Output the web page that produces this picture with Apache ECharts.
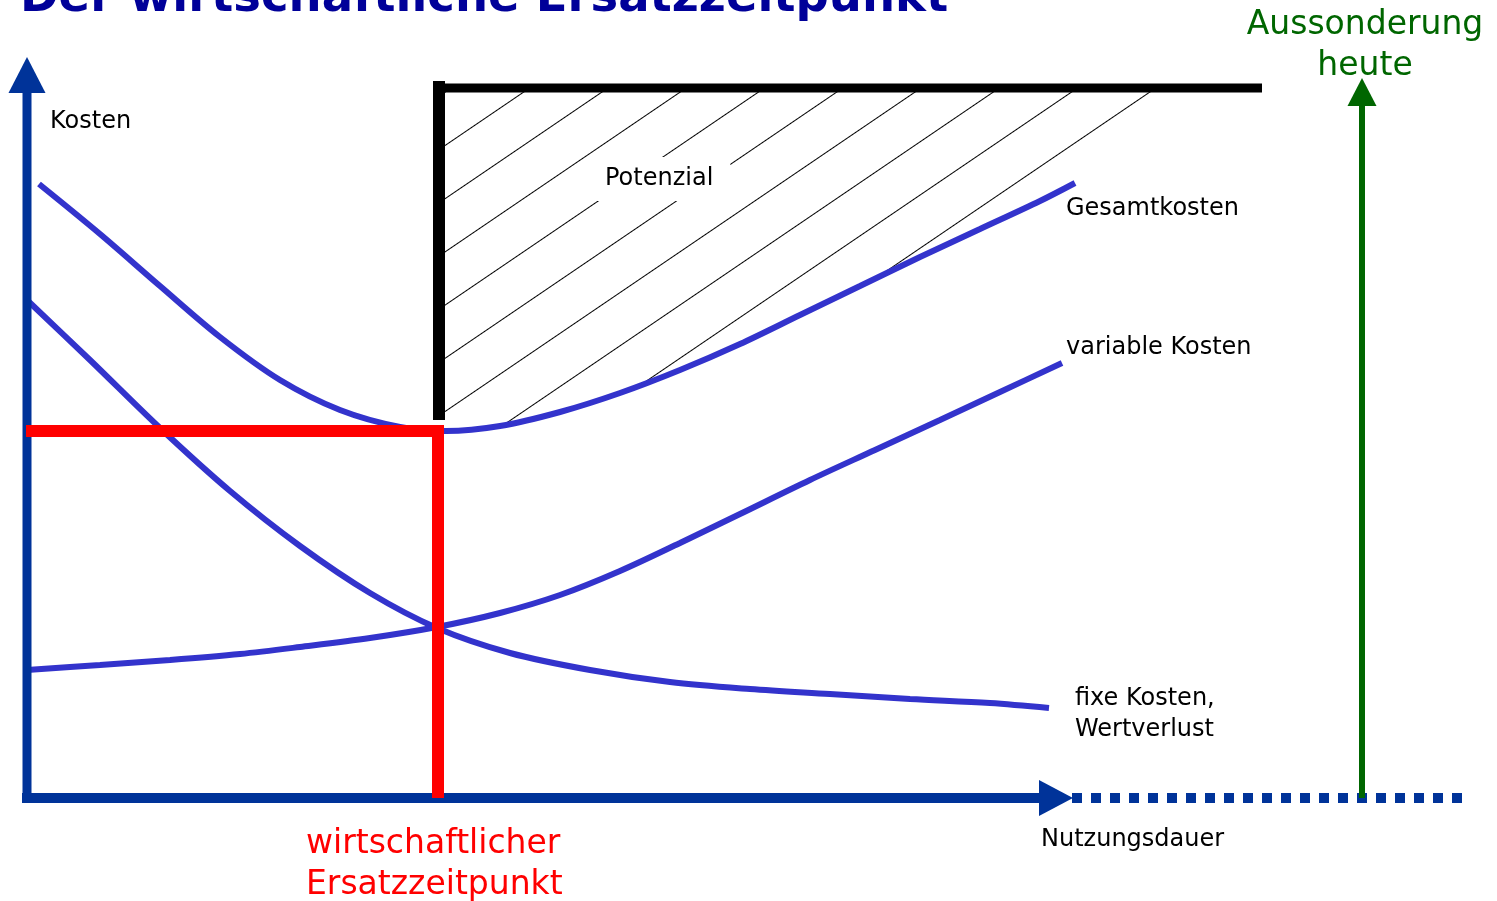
<!DOCTYPE html>
<html>
<head>
<meta charset="utf-8">
<script src="https://cdn.jsdelivr.net/npm/echarts@6/dist/echarts.min.js"></script>
<style>
  html, body { margin: 0; padding: 0; background: #fff; }
  #chart { width: 1497px; height: 901px; }
</style>
</head>
<body>
<div id="chart"></div>
<script>
// Werte in Diagramm-Einheiten (x: Nutzungsdauer, y: Kosten)
const gesamtX = [12, 73, 133, 193, 253, 313, 373, 419, 473, 533, 593, 653, 713, 773, 833, 893, 953, 1013, 1048];
const gesamtY = [614, 564, 512, 461, 418, 388, 371, 367, 372, 386, 405, 428, 454, 483, 512, 541, 569, 597, 615];

const fixX = [0, 63, 133, 203, 273, 343, 410, 483, 563, 643, 723, 803, 883, 963, 1022];
const fixY = [498, 438, 370, 307, 252, 205, 170, 145, 128, 116, 109, 104, 99, 95, 90];

const varX = [0, 73, 143, 213, 273, 343, 410, 473, 533, 593, 653, 713, 783, 848, 913, 973, 1035];
const varY = [128, 133, 138, 144, 151, 160, 171, 185, 203, 227, 255, 284, 318, 348, 378, 406, 435];

// Potenzial: Fläche zwischen Gesamtkosten und Obergrenze
const potX = [418, 473, 533, 593, 653, 713, 773, 833, 893, 953, 1013, 1048, 1141];
const potLow = [367, 372, 386, 405, 428, 454, 483, 512, 541, 569, 597, 615, 706];
const potTop = 706;

// Achsen, Ersatzzeitpunkt, Grenzlinien
const achseXEnde = 1029;
const achseYEnde = 723;
const ersatzX = 411;
const ersatzY = 367;
const grenzeX = [406, 1235];
const grenzeY = 710;
const grenzeSenkrecht = [378, 717];
const heuteX = 1335;
const heuteTop = 706;
const dauerEnde = [1045, 1436];

const zip = (xs, ys) => xs.map((x, i) => [x, ys[i]]);

// Schraffur als Muster
let hatch = document.createElement('canvas');
hatch.width = 16;
hatch.height = 44;
let hctx = hatch.getContext('2d');
hctx.fillStyle = '#000';
hctx.fillRect(0, 0, 16, 1);

let echart = echarts.init(document.getElementById('chart'));

const FONT = '"DejaVu Sans", sans-serif';
const txt = (text, x, y, size, color, align, extra) => ({
	type: 'text',
	x: x,
	y: y,
	z: 100,
	style: Object.assign({
		text: text,
		font: size + 'px ' + FONT,
		fill: color,
		align: align,
		textAlign: align,
		verticalAlign: 'middle',
		textVerticalAlign: 'middle'
	}, extra || {})
});

const blue = '#3333cc';
const axisBlue = '#003399';

const hidden = {
	axisLine: { show: false },
	axisTick: { show: false },
	axisLabel: { show: false },
	splitLine: { show: false }
};

const curve = (name, xs, ys) => ({
	name: name,
	type: 'line',
	data: zip(xs, ys),
	smooth: 0.33,
	symbol: 'none',
	z: 2,
	lineStyle: { color: blue, width: 6, cap: 'butt' }
});

let option = {
	backgroundColor: '#fff',
	animation: false,
	grid: { left: 0, top: 0, width: 1497, height: 901 },
	xAxis: Object.assign({ type: 'value', min: -27, max: 1470 }, hidden),
	yAxis: Object.assign({ type: 'value', min: -103, max: 798 }, hidden),
	series: [
		{
			name: 'Potenzial',
			type: 'line',
			data: zip(potX, potLow),
			smooth: 0.33,
			symbol: 'none',
			z: 1,
			lineStyle: { width: 0, opacity: 0 },
			areaStyle: {
				origin: potTop,
				opacity: 1,
				color: { image: hatch, repeat: 'repeat', rotation: -0.597, x: 0, y: 21.8 }
			}
		},
		curve('Gesamtkosten', gesamtX, gesamtY),
		curve('fixe Kosten', fixX, fixY),
		curve('variable Kosten', varX, varY),
		{
			// Kosten-Achse
			type: 'line',
			data: [[0, 0], { value: [0, achseYEnde], symbol: 'triangle', symbolSize: [37, 36] }],
			symbol: 'none',
			showSymbol: true,
			z: 2,
			itemStyle: { color: axisBlue },
			lineStyle: { color: axisBlue, width: 9, cap: 'butt' }
		},
		{
			// Nutzungsdauer-Achse
			type: 'line',
			data: [[-5, 0], { value: [achseXEnde, 0], symbol: 'triangle', symbolSize: [36, 34], symbolRotate: -90 }],
			symbol: 'none',
			showSymbol: true,
			z: 2,
			itemStyle: { color: axisBlue },
			lineStyle: { color: axisBlue, width: 10, cap: 'butt' }
		},
		{
			// Verlängerung der Nutzungsdauer
			type: 'line',
			data: [[dauerEnde[0], 0], [dauerEnde[1], 0]],
			symbol: 'none',
			z: 2,
			lineStyle: { color: axisBlue, width: 10, type: [10, 9], cap: 'butt' }
		},
		{
			// Aussonderung heute
			type: 'line',
			data: [[heuteX, 0], { value: [heuteX, heuteTop], symbol: 'triangle', symbolSize: [29, 28] }],
			symbol: 'none',
			showSymbol: true,
			z: 3,
			itemStyle: { color: '#006600' },
			lineStyle: { color: '#006600', width: 6 }
		},
		{
			// Grenze senkrecht
			type: 'line',
			data: [[ersatzX + 1, grenzeSenkrecht[0]], [ersatzX + 1, grenzeSenkrecht[1]]],
			symbol: 'none',
			z: 3,
			lineStyle: { color: '#000', width: 12, cap: 'butt' }
		},
		{
			// Grenze waagerecht
			type: 'line',
			data: [[grenzeX[0], grenzeY], [grenzeX[1], grenzeY]],
			symbol: 'none',
			z: 3,
			lineStyle: { color: '#000', width: 9, cap: 'butt' }
		},
		{
			// wirtschaftlicher Ersatzzeitpunkt
			type: 'line',
			data: [[-1, ersatzY], [ersatzX, ersatzY], [ersatzX, 0]],
			symbol: 'none',
			z: 4,
			lineStyle: { color: '#ff0000', width: 12, join: 'miter', cap: 'butt' }
		}
	],
	graphic: {
		elements: [
			txt('Der wirtschaftliche Ersatzzeitpunkt', 20, -1, 46.5, '#000099', 'left', { font: 'bold 46.5px ' + FONT }),
			txt('Kosten', 50, 122, 24, '#000', 'left'),
			txt('Potenzial', 588, 179, 24, '#000', 'left', { backgroundColor: '#fff', padding: [10, 17, 10, 17] }),
			txt('Gesamtkosten', 1066, 209, 24, '#000', 'left'),
			txt('variable Kosten', 1066, 348, 24, '#000', 'left'),
			txt('fixe Kosten,', 1075, 699, 24, '#000', 'left'),
			txt('Wertverlust', 1075, 730, 24, '#000', 'left'),
			txt('Nutzungsdauer', 1041, 840, 24, '#000', 'left'),
			txt('wirtschaftlicher', 306, 844, 33, '#ff0000', 'left'),
			txt('Ersatzzeitpunkt', 306, 885, 33, '#ff0000', 'left'),
			txt('Aussonderung', 1365, 25, 33, '#006600', 'center'),
			txt('heute', 1365, 66, 33, '#006600', 'center')
		]
	}
};

echart.setOption(option);
</script>
</body>
</html>
